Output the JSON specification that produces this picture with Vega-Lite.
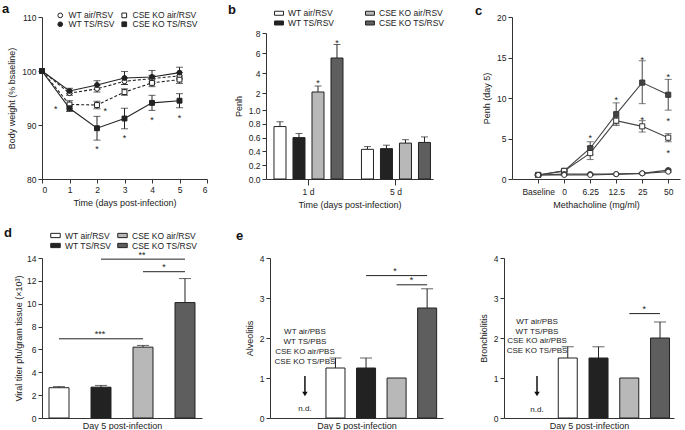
{
  "$schema": "https://vega.github.io/schema/vega-lite/v6.json",
  "padding": {"left": 2, "top": 3, "right": 2, "bottom": 2},
  "config": {
    "font": "Liberation Sans",
    "view": {"stroke": null},
    "axis": {"labelFontSize": 8.5, "titleFontSize": 9, "titleFontWeight": "normal", "domainColor": "#333", "tickColor": "#333", "labelColor": "#222", "titleColor": "#222", "grid": false, "tickSize": 4, "labelPadding": 2, "titlePadding": 5, "labelOverlap": false},
    "legend": {"labelFontSize": 8.5, "labelColor": "#222", "symbolStrokeColor": "#222", "symbolStrokeWidth": 1},
    "title": {"fontSize": 13, "fontWeight": "bold", "anchor": "start", "frame": "group", "color": "#111"}
  },
  "datasets": {
    "weight": [
      {"group": "WT air/RSV", "day": 0, "mean": 100, "lo": 100, "hi": 100},
      {"group": "WT air/RSV", "day": 1, "mean": 95.9, "lo": 95.5, "hi": 96.3},
      {"group": "WT air/RSV", "day": 2, "mean": 96.7, "lo": 96.1, "hi": 97.3},
      {"group": "WT air/RSV", "day": 3, "mean": 98.1, "lo": 97.5, "hi": 98.7},
      {"group": "WT air/RSV", "day": 4, "mean": 98.6, "lo": 98.0, "hi": 99.2},
      {"group": "WT air/RSV", "day": 5, "mean": 99.1, "lo": 98.5, "hi": 99.7},
      {"group": "WT TS/RSV", "day": 0, "mean": 100, "lo": 100, "hi": 100},
      {"group": "WT TS/RSV", "day": 1, "mean": 96.3, "lo": 95.8, "hi": 96.8},
      {"group": "WT TS/RSV", "day": 2, "mean": 97.4, "lo": 96.6, "hi": 98.2},
      {"group": "WT TS/RSV", "day": 3, "mean": 98.7, "lo": 97.5, "hi": 99.9},
      {"group": "WT TS/RSV", "day": 4, "mean": 98.9, "lo": 97.7, "hi": 100.1},
      {"group": "WT TS/RSV", "day": 5, "mean": 99.7, "lo": 98.7, "hi": 100.7},
      {"group": "CSE KO air/RSV", "day": 0, "mean": 100, "lo": 100, "hi": 100},
      {"group": "CSE KO air/RSV", "day": 1, "mean": 93.8, "lo": 93.1, "hi": 94.5},
      {"group": "CSE KO air/RSV", "day": 2, "mean": 93.7, "lo": 93.0, "hi": 94.4},
      {"group": "CSE KO air/RSV", "day": 3, "mean": 96.1, "lo": 95.5, "hi": 96.7},
      {"group": "CSE KO air/RSV", "day": 4, "mean": 97.8, "lo": 97.1, "hi": 98.5},
      {"group": "CSE KO air/RSV", "day": 5, "mean": 98.4, "lo": 97.7, "hi": 99.1},
      {"group": "CSE KO TS/RSV", "day": 0, "mean": 100, "lo": 100, "hi": 100},
      {"group": "CSE KO TS/RSV", "day": 1, "mean": 93.1, "lo": 92.5, "hi": 93.7},
      {"group": "CSE KO TS/RSV", "day": 2, "mean": 89.4, "lo": 87.2, "hi": 91.6},
      {"group": "CSE KO TS/RSV", "day": 3, "mean": 91.2, "lo": 89.3, "hi": 93.1},
      {"group": "CSE KO TS/RSV", "day": 4, "mean": 94.1, "lo": 92.7, "hi": 95.5},
      {"group": "CSE KO TS/RSV", "day": 5, "mean": 94.5, "lo": 93.2, "hi": 95.8}
    ],
    "weight_stars": [
      {"day": 0.5, "y": 93.6}, {"day": 2.3, "y": 93.2}, {"day": 2, "y": 86.2},
      {"day": 3, "y": 88.2}, {"day": 4, "y": 91.5}, {"day": 5, "y": 91.8}
    ],
    "penh_b": [
      {"time": "1 d", "group": "WT air/RSV", "penh": 0.76, "hi": 0.83},
      {"time": "1 d", "group": "WT TS/RSV", "penh": 0.60, "hi": 0.66},
      {"time": "1 d", "group": "CSE KO air/RSV", "penh": 2.1, "hi": 2.7},
      {"time": "1 d", "group": "CSE KO TS/RSV", "penh": 5.5, "hi": 6.85},
      {"time": "5 d", "group": "WT air/RSV", "penh": 0.43, "hi": 0.47},
      {"time": "5 d", "group": "WT TS/RSV", "penh": 0.44, "hi": 0.49},
      {"time": "5 d", "group": "CSE KO air/RSV", "penh": 0.52, "hi": 0.57},
      {"time": "5 d", "group": "CSE KO TS/RSV", "penh": 0.53, "hi": 0.61}
    ],
    "b_stars": [
      {"time": "1 d", "group": "CSE KO air/RSV", "y": 3.3},
      {"time": "1 d", "group": "CSE KO TS/RSV", "y": 7.3}
    ],
    "penh_c": [
      {"dose": "Baseline", "group": "CSE KO TS/RSV", "penh": 0.5, "lo": 0.4, "hi": 0.6},
      {"dose": "0", "group": "CSE KO TS/RSV", "penh": 1.0, "lo": 0.9, "hi": 1.1},
      {"dose": "6.25", "group": "CSE KO TS/RSV", "penh": 3.8, "lo": 3.0, "hi": 4.6},
      {"dose": "12.5", "group": "CSE KO TS/RSV", "penh": 8.0, "lo": 6.6, "hi": 9.4},
      {"dose": "25", "group": "CSE KO TS/RSV", "penh": 11.9, "lo": 9.3, "hi": 14.6},
      {"dose": "50", "group": "CSE KO TS/RSV", "penh": 10.4, "lo": 8.5, "hi": 12.3},
      {"dose": "Baseline", "group": "CSE KO air/RSV", "penh": 0.5, "lo": 0.4, "hi": 0.6},
      {"dose": "0", "group": "CSE KO air/RSV", "penh": 1.0, "lo": 0.9, "hi": 1.1},
      {"dose": "6.25", "group": "CSE KO air/RSV", "penh": 3.2, "lo": 2.4, "hi": 4.0},
      {"dose": "12.5", "group": "CSE KO air/RSV", "penh": 7.2, "lo": 6.8, "hi": 7.6},
      {"dose": "25", "group": "CSE KO air/RSV", "penh": 6.5, "lo": 5.8, "hi": 7.2},
      {"dose": "50", "group": "CSE KO air/RSV", "penh": 5.1, "lo": 4.6, "hi": 5.6},
      {"dose": "Baseline", "group": "WT TS/RSV", "penh": 0.5, "lo": 0.45, "hi": 0.55},
      {"dose": "0", "group": "WT TS/RSV", "penh": 0.6, "lo": 0.55, "hi": 0.65},
      {"dose": "6.25", "group": "WT TS/RSV", "penh": 0.6, "lo": 0.55, "hi": 0.65},
      {"dose": "12.5", "group": "WT TS/RSV", "penh": 0.6, "lo": 0.55, "hi": 0.65},
      {"dose": "25", "group": "WT TS/RSV", "penh": 0.7, "lo": 0.62, "hi": 0.78},
      {"dose": "50", "group": "WT TS/RSV", "penh": 1.1, "lo": 1.0, "hi": 1.2},
      {"dose": "Baseline", "group": "WT air/RSV", "penh": 0.5, "lo": 0.45, "hi": 0.55},
      {"dose": "0", "group": "WT air/RSV", "penh": 0.5, "lo": 0.45, "hi": 0.55},
      {"dose": "6.25", "group": "WT air/RSV", "penh": 0.5, "lo": 0.45, "hi": 0.55},
      {"dose": "12.5", "group": "WT air/RSV", "penh": 0.6, "lo": 0.55, "hi": 0.65},
      {"dose": "25", "group": "WT air/RSV", "penh": 0.7, "lo": 0.62, "hi": 0.78},
      {"dose": "50", "group": "WT air/RSV", "penh": 0.9, "lo": 0.8, "hi": 1.0}
    ],
    "c_stars": [
      {"dose": "6.25", "y": 5.4}, {"dose": "12.5", "y": 10.1}, {"dose": "25", "y": 15.1},
      {"dose": "25", "y": 7.7}, {"dose": "50", "y": 13.0}, {"dose": "50", "y": 7.5}, {"dose": "50", "y": 3.6}
    ],
    "viral": [
      {"group": "WT air/RSV", "titer": 2.65, "hi": 2.75},
      {"group": "WT TS/RSV", "titer": 2.7, "hi": 2.85},
      {"group": "CSE KO air/RSV", "titer": 6.2, "hi": 6.35},
      {"group": "CSE KO TS/RSV", "titer": 10.1, "hi": 12.2}
    ],
    "viral_sig": [
      {"from": "WT air/RSV", "to": "CSE KO air/RSV", "y": 6.93, "label": "***"},
      {"from": "WT TS/RSV", "to": "CSE KO TS/RSV", "y": 13.9, "label": "**"},
      {"from": "CSE KO air/RSV", "to": "CSE KO TS/RSV", "y": 12.8, "label": "*"}
    ],
    "alv": [
      {"group": "WT air/RSV", "score": 1.25, "hi": 1.5},
      {"group": "WT TS/RSV", "score": 1.25, "hi": 1.5},
      {"group": "CSE KO air/RSV", "score": 1.0, "hi": null},
      {"group": "CSE KO TS/RSV", "score": 2.75, "hi": 3.23}
    ],
    "alv_sig": [
      {"from": "WT TS/RSV", "to": "CSE KO TS/RSV", "y": 3.56, "label": "*"},
      {"from": "CSE KO air/RSV", "to": "CSE KO TS/RSV", "y": 3.33, "label": "*"}
    ],
    "bron": [
      {"group": "WT air/RSV", "score": 1.5, "hi": 1.78},
      {"group": "WT TS/RSV", "score": 1.5, "hi": 1.78},
      {"group": "CSE KO air/RSV", "score": 1.0, "hi": null},
      {"group": "CSE KO TS/RSV", "score": 2.0, "hi": 2.4}
    ],
    "bron_sig": [
      {"from": "CSE KO air/RSV", "to": "CSE KO TS/RSV", "y": 2.61, "label": "*"}
    ],
    "alv_pbs": [
      {"group": "PBS", "label": "WT air/PBS", "y": 2.15},
      {"group": "PBS", "label": "WT TS/PBS", "y": 1.9},
      {"group": "PBS", "label": "CSE KO air/PBS", "y": 1.65},
      {"group": "PBS", "label": "CSE KO TS/PBS", "y": 1.4},
      {"group": "PBS", "label": "n.d.", "y": 0.22}
    ],
    "bron_pbs": [
      {"group": "PBS", "label": "WT air/PBS", "y": 2.4},
      {"group": "PBS", "label": "WT TS/PBS", "y": 2.16},
      {"group": "PBS", "label": "CSE KO air/PBS", "y": 1.92},
      {"group": "PBS", "label": "CSE KO TS/PBS", "y": 1.68},
      {"group": "PBS", "label": "n.d.", "y": 0.2}
    ],
    "arrow": [
      {"group": "PBS", "top": 1.05, "bottom": 0.6}
    ]
  },
  "resolve": {"scale": {"x": "independent", "y": "independent", "fill": "independent", "shape": "independent", "xOffset": "independent"}, "legend": {"fill": "independent", "shape": "independent"}},
  "spacing": 17,
  "vconcat": [
    {
      "spacing": 20,
      "resolve": {"scale": {"x": "independent", "y": "independent", "fill": "independent", "shape": "independent", "xOffset": "independent"}, "legend": {"fill": "independent", "shape": "independent"}},
      "hconcat": [
        {
          "width": 165, "height": 162,
          "title": {"text": "a", "dx": -40, "offset": -5},
          "layer": [
            {
              "data": {"name": "weight"},
              "transform": [{"filter": "datum.group == 'WT air/RSV' || datum.group == 'CSE KO air/RSV'"}],
              "mark": {"type": "line", "strokeWidth": 1.1, "color": "#222", "strokeDash": [3, 2]},
              "encoding": {
                "x": {"field": "day", "type": "quantitative", "scale": {"domain": [0, 6], "nice": false}, "axis": {"values": [0, 1, 2, 3, 4, 5, 6], "tickCount": 20, "format": "d", "title": "Time (days post-infection)"}},
                "y": {"field": "mean", "type": "quantitative", "scale": {"domain": [80, 110], "nice": false, "zero": false}, "axis": {"values": [80, 90, 100, 110], "tickCount": 20, "format": "d"}, "title": "Body weight (% bsaeline)"},
                "detail": {"field": "group"}
              }
            },
            {
              "data": {"name": "weight"},
              "transform": [{"filter": "datum.group == 'WT TS/RSV' || datum.group == 'CSE KO TS/RSV'"}],
              "mark": {"type": "line", "strokeWidth": 1.1, "color": "#222"},
              "encoding": {
                "x": {"field": "day", "type": "quantitative"},
                "y": {"field": "mean", "type": "quantitative", "title": "Body weight (% bsaeline)"},
                "detail": {"field": "group"}
              }
            },
            {
              "data": {"name": "weight"},
              "transform": [{"filter": "datum.day > 0"}],
              "mark": {"type": "rule", "color": "#222", "strokeWidth": 1},
              "encoding": {
                "x": {"field": "day", "type": "quantitative"},
                "y": {"field": "lo", "type": "quantitative", "title": "Body weight (% bsaeline)"},
                "y2": {"field": "hi"}
              }
            },
            {
              "data": {"name": "weight"},
              "transform": [{"filter": "datum.day > 0"}, {"fold": ["lo", "hi"], "as": ["end", "v"]}],
              "mark": {"type": "tick", "orient": "horizontal", "color": "#222", "size": 7, "thickness": 1},
              "encoding": {
                "x": {"field": "day", "type": "quantitative"},
                "y": {"field": "v", "type": "quantitative", "title": "Body weight (% bsaeline)"}
              }
            },
            {
              "data": {"name": "weight"},
              "mark": {"type": "point", "filled": true, "size": 24, "stroke": "#222", "strokeWidth": 1, "opacity": 1},
              "encoding": {
                "x": {"field": "day", "type": "quantitative"},
                "y": {"field": "mean", "type": "quantitative", "title": "Body weight (% bsaeline)"},
                "shape": {"field": "group", "type": "nominal", "scale": {"domain": ["WT air/RSV", "WT TS/RSV", "CSE KO air/RSV", "CSE KO TS/RSV"], "range": ["circle", "circle", "square", "square"]}, "legend": {"orient": "none", "legendX": 14, "legendY": -6, "columns": 2, "title": null, "symbolSize": 22, "rowPadding": -2, "columnPadding": 4, "symbolStrokeColor": "#222", "symbolStrokeWidth": 1, "symbolFillColor": "white"}},
                "fill": {"field": "group", "type": "nominal", "scale": {"domain": ["WT air/RSV", "WT TS/RSV", "CSE KO air/RSV", "CSE KO TS/RSV"], "range": ["white", "#222", "white", "#222"]}, "legend": {"orient": "none", "legendX": 14, "legendY": -6, "columns": 2, "title": null, "symbolSize": 22, "rowPadding": -2, "columnPadding": 4, "symbolStrokeColor": "#222", "symbolStrokeWidth": 1}}
              }
            },
            {
              "data": {"name": "weight_stars"},
              "mark": {"type": "text", "text": "*", "fontSize": 9, "baseline": "middle", "dy": 3, "color": "#222"},
              "encoding": {
                "x": {"field": "day", "type": "quantitative"},
                "y": {"field": "y", "type": "quantitative", "title": "Body weight (% bsaeline)"}
              }
            }
          ]
        },
        {
          "spacing": 30,
          "resolve": {"scale": {"x": "independent", "y": "independent", "fill": "independent", "shape": "independent", "xOffset": "independent"}, "legend": {"fill": "independent", "shape": "independent"}},
          "hconcat": [
            {
              "width": 167, "height": 162,
              "title": {"text": "b", "dx": -38, "offset": -9},
              "encoding": {
                "x": {"field": "time", "type": "nominal", "scale": {"domain": ["1 d", "5 d"], "paddingInner": 0.211, "paddingOuter": 0.06, "align": 0.76}, "axis": {"labelAngle": 0, "title": "Time (days post-infection)", "tickSize": 6}},
                "xOffset": {"field": "group", "type": "nominal", "scale": {"domain": ["WT air/RSV", "WT TS/RSV", "CSE KO air/RSV", "CSE KO TS/RSV"], "paddingInner": 0.368, "paddingOuter": 0}}
              },
              "layer": [
                {
                  "data": {"name": "penh_b"},
                  "mark": {"type": "rule", "color": "#222"},
                  "encoding": {
                    "y": {"field": "penh", "type": "quantitative", "title": "Penh", "scale": {"domain": [0, 1, 2, 8], "range": [162, 93, 76, 16], "nice": false, "zero": false}, "axis": {"values": [0, 0.2, 0.4, 0.6, 0.8, 1, 2, 4, 6, 8], "tickCount": 30, "labelOverlap": false, "labelFlush": false, "labelBound": false, "labelExpr": "datum.value <= 1 ? format(datum.value, '.1f') : format(datum.value, 'd')"}},
                    "y2": {"field": "hi"}
                  }
                },
                {
                  "data": {"name": "penh_b"},
                  "mark": {"type": "tick", "orient": "horizontal", "color": "#222", "size": 7, "thickness": 1},
                  "encoding": {"y": {"field": "hi", "type": "quantitative", "title": "Penh"}}
                },
                {
                  "data": {"name": "penh_b"},
                  "mark": {"type": "bar", "stroke": "#222", "strokeWidth": 1},
                  "encoding": {
                    "y": {"field": "penh", "type": "quantitative", "title": "Penh"},
                    "fill": {"field": "group", "type": "nominal", "scale": {"domain": ["WT air/RSV", "WT TS/RSV", "CSE KO air/RSV", "CSE KO TS/RSV"], "range": ["white", "#222", "#b8b8b8", "#5e5e5e"]}, "legend": {"orient": "none", "legendX": 8, "legendY": -9, "columns": 2, "title": null, "symbolType": "M-1,-0.45H1V0.45H-1Z", "symbolSize": 80, "rowPadding": 0, "columnPadding": 28}}
                  }
                },
                {
                  "data": {"name": "b_stars"},
                  "mark": {"type": "text", "text": "*", "fontSize": 9, "baseline": "middle", "dy": 3, "color": "#222"},
                  "encoding": {"y": {"field": "y", "type": "quantitative", "title": "Penh"}}
                }
              ]
            },
            {
              "width": 168, "height": 162,
              "title": {"text": "c", "dx": -37, "offset": -5},
              "encoding": {
                "x": {"field": "dose", "type": "ordinal", "scale": {"type": "point", "domain": ["Baseline", "0", "6.25", "12.5", "25", "50"], "padding": 0.73, "align": 0.69}, "axis": {"labelAngle": 0, "title": "Methacholine (mg/ml)", "labelPadding": 4}}
              },
              "layer": [
                {
                  "data": {"name": "penh_c"},
                  "mark": {"type": "line", "color": "#444", "strokeWidth": 1.1},
                  "encoding": {
                    "y": {"field": "penh", "type": "quantitative", "title": "Penh (day 5)", "scale": {"domain": [0, 20], "nice": false}, "axis": {"values": [0, 5, 10, 15, 20], "tickCount": 20, "format": "d"}},
                    "detail": {"field": "group"}
                  }
                },
                {
                  "data": {"name": "penh_c"},
                  "mark": {"type": "rule", "color": "#444"},
                  "encoding": {"y": {"field": "lo", "type": "quantitative", "title": "Penh (day 5)"}, "y2": {"field": "hi"}}
                },
                {
                  "data": {"name": "penh_c"},
                  "transform": [{"fold": ["lo", "hi"], "as": ["end", "v"]}],
                  "mark": {"type": "tick", "orient": "horizontal", "color": "#444", "size": 7, "thickness": 1},
                  "encoding": {"y": {"field": "v", "type": "quantitative", "title": "Penh (day 5)"}}
                },
                {
                  "data": {"name": "penh_c"},
                  "mark": {"type": "point", "filled": true, "size": 26, "stroke": "#333", "strokeWidth": 1, "opacity": 1},
                  "encoding": {
                    "y": {"field": "penh", "type": "quantitative", "title": "Penh (day 5)"},
                    "shape": {"field": "group", "type": "nominal", "scale": {"domain": ["WT air/RSV", "WT TS/RSV", "CSE KO air/RSV", "CSE KO TS/RSV"], "range": ["circle", "circle", "square", "square"]}, "legend": null},
                    "fill": {"field": "group", "type": "nominal", "scale": {"domain": ["WT air/RSV", "WT TS/RSV", "CSE KO air/RSV", "CSE KO TS/RSV"], "range": ["white", "#444", "white", "#444"]}, "legend": null}
                  }
                },
                {
                  "data": {"name": "c_stars"},
                  "mark": {"type": "text", "text": "*", "fontSize": 9, "baseline": "middle", "dy": 3, "color": "#222"},
                  "encoding": {"y": {"field": "y", "type": "quantitative", "title": "Penh (day 5)"}}
                }
              ]
            }
          ]
        }
      ]
    },
    {
      "spacing": 34,
      "resolve": {"scale": {"x": "independent", "y": "independent", "fill": "independent"}, "legend": {"fill": "independent"}},
      "hconcat": [
        {
          "width": 160, "height": 160,
          "title": {"text": "d", "dx": -38, "offset": -10},
          "encoding": {
            "x": {"field": "group", "type": "nominal", "scale": {"domain": ["WT air/RSV", "WT TS/RSV", "CSE KO air/RSV", "CSE KO TS/RSV"], "paddingInner": 0.524, "paddingOuter": 0.167}, "axis": {"labels": false, "ticks": false, "title": "Day 5 post-infection", "titlePadding": 3}}
          },
          "layer": [
            {
              "data": {"name": "viral"},
              "mark": {"type": "rule", "color": "#222"},
              "encoding": {"y": {"field": "titer", "type": "quantitative", "title": "Viral titer pfu/gram tissue (×10³)", "scale": {"domain": [0, 14], "nice": false}, "axis": {"values": [0, 2, 4, 6, 8, 10, 12, 14], "tickCount": 20, "format": "d", "titlePadding": 3}}, "y2": {"field": "hi"}}
            },
            {
              "data": {"name": "viral"},
              "mark": {"type": "tick", "orient": "horizontal", "color": "#222", "size": 12, "thickness": 1},
              "encoding": {"y": {"field": "hi", "type": "quantitative", "title": "Viral titer pfu/gram tissue (×10³)"}}
            },
            {
              "data": {"name": "viral"},
              "mark": {"type": "bar", "stroke": "#222", "strokeWidth": 1},
              "encoding": {
                "y": {"field": "titer", "type": "quantitative", "title": "Viral titer pfu/gram tissue (×10³)"},
                "fill": {"field": "group", "type": "nominal", "scale": {"domain": ["WT air/RSV", "WT TS/RSV", "CSE KO air/RSV", "CSE KO TS/RSV"], "range": ["white", "#222", "#b8b8b8", "#5e5e5e"]}, "legend": {"orient": "none", "legendX": 8, "legendY": -28, "columns": 2, "title": null, "symbolType": "M-1,-0.45H1V0.45H-1Z", "symbolSize": 90, "rowPadding": -2, "columnPadding": 3}}
              }
            },
            {
              "data": {"name": "viral_sig"},
              "mark": {"type": "rule", "color": "#222"},
              "encoding": {"x": {"field": "from", "type": "nominal"}, "x2": {"field": "to"}, "y": {"field": "y", "type": "quantitative", "title": "Viral titer pfu/gram tissue (×10³)"}}
            },
            {
              "data": {"name": "viral_sig"},
              "transform": [{"filter": "datum.label == '***'"}],
              "mark": {"type": "text", "fontSize": 9, "baseline": "alphabetic", "dy": -2, "dx": 41, "color": "#222"},
              "encoding": {"x": {"field": "from", "type": "nominal"}, "text": {"field": "label"}, "y": {"field": "y", "type": "quantitative", "title": "Viral titer pfu/gram tissue (×10³)"}}
            },
            {
              "data": {"name": "viral_sig"},
              "transform": [{"filter": "datum.label == '**'"}],
              "mark": {"type": "text", "fontSize": 9, "baseline": "alphabetic", "dy": -1, "dx": 41, "color": "#222"},
              "encoding": {"x": {"field": "from", "type": "nominal"}, "text": {"field": "label"}, "y": {"field": "y", "type": "quantitative", "title": "Viral titer pfu/gram tissue (×10³)"}}
            },
            {
              "data": {"name": "viral_sig"},
              "transform": [{"filter": "datum.label == '*'"}],
              "mark": {"type": "text", "fontSize": 9, "baseline": "alphabetic", "dy": -2, "dx": 21, "color": "#222"},
              "encoding": {"x": {"field": "from", "type": "nominal"}, "text": {"field": "label"}, "y": {"field": "y", "type": "quantitative", "title": "Viral titer pfu/gram tissue (×10³)"}}
            }
          ]
        },
        {
          "spacing": 36,
          "resolve": {"scale": {"x": "independent", "y": "independent", "fill": "independent"}, "legend": {"fill": "independent"}},
          "hconcat": [
            {
              "width": 173, "height": 160,
              "title": {"text": "e", "dx": -34, "offset": 11},
              "encoding": {
                "x": {"field": "group", "type": "nominal", "scale": {"domain": ["PBS", "WT air/RSV", "WT TS/RSV", "CSE KO air/RSV", "CSE KO TS/RSV"], "paddingInner": 0.377, "paddingOuter": 0.52, "align": 0.8}, "axis": {"labels": false, "ticks": false, "title": "Day 5 post-infection", "titlePadding": 3}}
              },
              "layer": [
                {
                  "data": {"name": "alv"},
                  "transform": [{"filter": "isValid(datum.hi)"}],
                  "mark": {"type": "rule", "color": "#222"},
                  "encoding": {"y": {"field": "score", "type": "quantitative", "title": "Alveolitis", "scale": {"domain": [0, 4], "nice": false}, "axis": {"values": [0, 1, 2, 3, 4], "tickCount": 20, "format": "d"}}, "y2": {"field": "hi"}}
                },
                {
                  "data": {"name": "alv"},
                  "transform": [{"filter": "isValid(datum.hi)"}],
                  "mark": {"type": "tick", "orient": "horizontal", "color": "#222", "size": 12, "thickness": 1},
                  "encoding": {"y": {"field": "hi", "type": "quantitative", "title": "Alveolitis"}}
                },
                {
                  "data": {"name": "alv"},
                  "mark": {"type": "bar", "stroke": "#222", "strokeWidth": 1},
                  "encoding": {
                    "y": {"field": "score", "type": "quantitative", "title": "Alveolitis"},
                    "fill": {"field": "group", "type": "nominal", "scale": {"domain": ["WT air/RSV", "WT TS/RSV", "CSE KO air/RSV", "CSE KO TS/RSV"], "range": ["white", "#222", "#b8b8b8", "#5e5e5e"]}, "legend": null}
                  }
                },
                {
                  "data": {"name": "alv_sig"},
                  "mark": {"type": "rule", "color": "#222"},
                  "encoding": {"x": {"field": "from", "type": "nominal"}, "x2": {"field": "to"}, "y": {"field": "y", "type": "quantitative", "title": "Alveolitis"}}
                },
                {
                  "data": {"name": "alv_sig"},
                  "transform": [{"filter": "datum.from == 'WT TS/RSV'"}],
                  "mark": {"type": "text", "fontSize": 9, "baseline": "alphabetic", "dy": -2, "dx": 29, "color": "#222"},
                  "encoding": {"x": {"field": "from", "type": "nominal"}, "text": {"field": "label"}, "y": {"field": "y", "type": "quantitative", "title": "Alveolitis"}}
                },
                {
                  "data": {"name": "alv_sig"},
                  "transform": [{"filter": "datum.from == 'CSE KO air/RSV'"}],
                  "mark": {"type": "text", "fontSize": 9, "baseline": "alphabetic", "dy": -2, "dx": 15, "color": "#222"},
                  "encoding": {"x": {"field": "from", "type": "nominal"}, "text": {"field": "label"}, "y": {"field": "y", "type": "quantitative", "title": "Alveolitis"}}
                },
                {
                  "data": {"name": "alv_pbs"},
                  "mark": {"type": "text", "fontSize": 8, "baseline": "middle", "color": "#222"},
                  "encoding": {"x": {"field": "group", "type": "nominal"}, "text": {"field": "label"}, "y": {"field": "y", "type": "quantitative", "title": "Alveolitis"}}
                },
                {
                  "data": {"name": "arrow"},
                  "mark": {"type": "rule", "color": "#111", "strokeWidth": 1.5},
                  "encoding": {"x": {"field": "group", "type": "nominal"}, "y": {"field": "top", "type": "quantitative", "title": "Alveolitis"}, "y2": {"field": "bottom"}}
                },
                {
                  "data": {"name": "arrow"},
                  "mark": {"type": "point", "shape": "triangle-down", "filled": true, "color": "#111", "size": 30, "opacity": 1},
                  "encoding": {"x": {"field": "group", "type": "nominal"}, "y": {"field": "bottom", "type": "quantitative", "title": "Alveolitis"}}
                }
              ]
            },
            {
              "width": 170, "height": 160,
              "encoding": {
                "x": {"field": "group", "type": "nominal", "scale": {"domain": ["PBS", "WT air/RSV", "WT TS/RSV", "CSE KO air/RSV", "CSE KO TS/RSV"], "paddingInner": 0.382, "paddingOuter": 0.455, "align": 0.84}, "axis": {"labels": false, "ticks": false, "title": "Day 5 post-infection", "titlePadding": 3}}
              },
              "layer": [
                {
                  "data": {"name": "bron"},
                  "transform": [{"filter": "isValid(datum.hi)"}],
                  "mark": {"type": "rule", "color": "#222"},
                  "encoding": {"y": {"field": "score", "type": "quantitative", "title": "Bronchiolitis", "scale": {"domain": [0, 4], "nice": false}, "axis": {"values": [0, 1, 2, 3, 4], "tickCount": 20, "format": "d"}}, "y2": {"field": "hi"}}
                },
                {
                  "data": {"name": "bron"},
                  "transform": [{"filter": "isValid(datum.hi)"}],
                  "mark": {"type": "tick", "orient": "horizontal", "color": "#222", "size": 12, "thickness": 1},
                  "encoding": {"y": {"field": "hi", "type": "quantitative", "title": "Bronchiolitis"}}
                },
                {
                  "data": {"name": "bron"},
                  "mark": {"type": "bar", "stroke": "#222", "strokeWidth": 1},
                  "encoding": {
                    "y": {"field": "score", "type": "quantitative", "title": "Bronchiolitis"},
                    "fill": {"field": "group", "type": "nominal", "scale": {"domain": ["WT air/RSV", "WT TS/RSV", "CSE KO air/RSV", "CSE KO TS/RSV"], "range": ["white", "#222", "#b8b8b8", "#5e5e5e"]}, "legend": null}
                  }
                },
                {
                  "data": {"name": "bron_sig"},
                  "mark": {"type": "rule", "color": "#222"},
                  "encoding": {"x": {"field": "from", "type": "nominal"}, "x2": {"field": "to"}, "y": {"field": "y", "type": "quantitative", "title": "Bronchiolitis"}}
                },
                {
                  "data": {"name": "bron_sig"},
                  "mark": {"type": "text", "fontSize": 9, "baseline": "alphabetic", "dy": -2, "dx": 15, "color": "#222"},
                  "encoding": {"x": {"field": "from", "type": "nominal"}, "text": {"field": "label"}, "y": {"field": "y", "type": "quantitative", "title": "Bronchiolitis"}}
                },
                {
                  "data": {"name": "bron_pbs"},
                  "mark": {"type": "text", "fontSize": 8, "baseline": "middle", "color": "#222"},
                  "encoding": {"x": {"field": "group", "type": "nominal"}, "text": {"field": "label"}, "y": {"field": "y", "type": "quantitative", "title": "Bronchiolitis"}}
                },
                {
                  "data": {"name": "arrow"},
                  "mark": {"type": "rule", "color": "#111", "strokeWidth": 1.5},
                  "encoding": {"x": {"field": "group", "type": "nominal"}, "y": {"field": "top", "type": "quantitative", "title": "Bronchiolitis"}, "y2": {"field": "bottom"}}
                },
                {
                  "data": {"name": "arrow"},
                  "mark": {"type": "point", "shape": "triangle-down", "filled": true, "color": "#111", "size": 30, "opacity": 1},
                  "encoding": {"x": {"field": "group", "type": "nominal"}, "y": {"field": "bottom", "type": "quantitative", "title": "Bronchiolitis"}}
                }
              ]
            }
          ]
        }
      ]
    }
  ]
}
